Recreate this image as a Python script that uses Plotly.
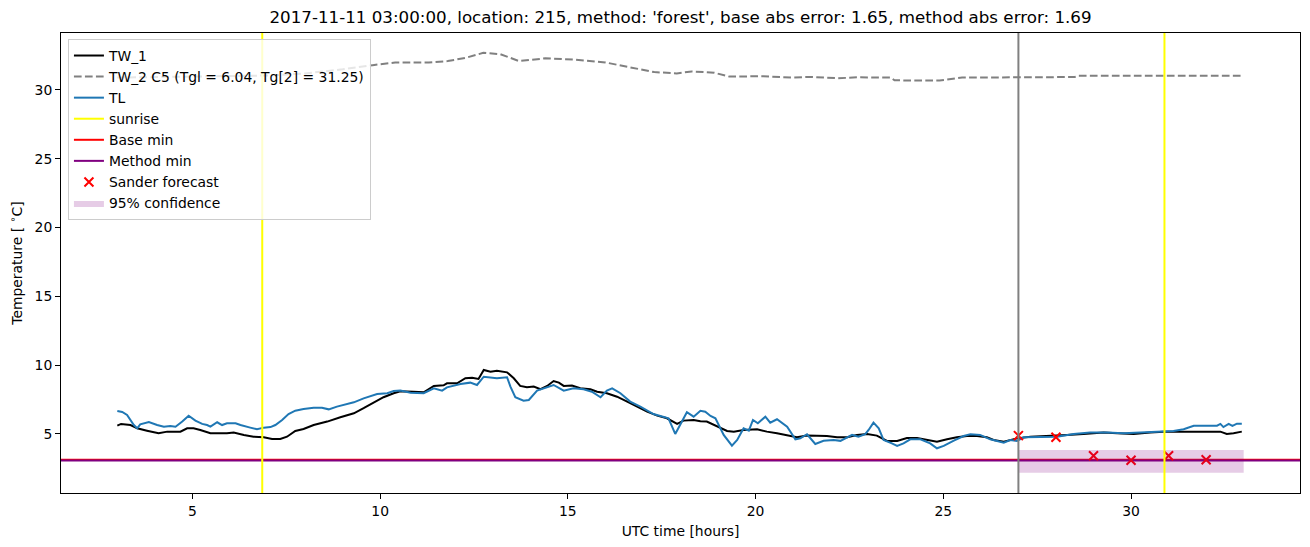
import plotly.graph_objects as go

# ---------------- data ----------------
tw1_t = [3.0, 3.1, 3.35, 3.53, 3.79, 4.1, 4.33, 4.68, 4.86, 5.03, 5.21, 5.48, 5.92, 6.1, 6.37, 6.63, 6.9,
         7.12, 7.34, 7.52, 7.74, 7.96, 8.23, 8.59, 8.94, 9.3, 9.56, 9.83, 10.09, 10.36, 10.54, 10.89, 11.16,
         11.43, 11.69, 11.78, 12.05, 12.27, 12.45, 12.62, 12.76, 12.94, 13.11, 13.38, 13.56, 13.73, 13.91,
         14.09, 14.27, 14.45, 14.62, 14.76, 14.89, 15.11, 15.33, 15.6, 15.78, 16.04, 16.31, 16.58, 16.84,
         17.11, 17.38, 17.64, 17.91, 18.08, 18.35, 18.53, 18.7, 18.97, 19.24, 19.42, 19.68, 20.04, 20.3,
         20.57, 20.84, 21.1, 21.37, 21.64, 21.9, 22.17, 22.44, 22.7, 22.97, 23.23, 23.5, 23.77, 24.03, 24.3,
         24.57, 24.83, 25.1, 25.36, 25.63, 25.9, 26.16, 26.34, 26.61, 26.96, 27.32, 27.85, 28.29, 28.73,
         29.27, 29.63, 30.07, 30.51, 30.87, 31.58, 32.38, 32.55, 32.73, 32.95]
tw1_v = [5.6, 5.73, 5.65, 5.41, 5.24, 5.05, 5.17, 5.17, 5.41, 5.41, 5.29, 5.05, 5.05, 5.1, 4.93, 4.8, 4.76,
         4.64, 4.64, 4.8, 5.22, 5.36, 5.65, 5.9, 6.21, 6.5, 6.87, 7.27, 7.67, 7.96, 8.1, 8.07, 8.03,
         8.49, 8.54, 8.68, 8.68, 9.05, 9.09, 9.0, 9.65, 9.53, 9.6, 9.48, 9.05, 8.49, 8.39,
         8.44, 8.25, 8.49, 8.85, 8.73, 8.49, 8.52, 8.32, 8.25, 8.07, 7.96, 7.71, 7.35, 6.99,
         6.62, 6.33, 6.14, 5.73, 5.97, 6.02, 5.92, 5.9, 5.53, 5.22, 5.17, 5.29, 5.34, 5.17,
         5.05, 4.88, 4.76, 4.88, 4.85, 4.85, 4.76, 4.76, 4.93, 5.0, 4.88, 4.49, 4.49, 4.7, 4.7,
         4.56, 4.44, 4.61, 4.76, 4.85, 4.85, 4.76, 4.56, 4.44, 4.68, 4.8, 4.85, 4.93, 5.0,
         5.1, 5.05, 5.0, 5.1, 5.17, 5.17, 5.17, 5.0, 5.05, 5.17]

tw2_t = [3.0, 4.0, 5.0, 6.0, 7.0, 8.0, 9.0, 9.8, 10.4, 11.3, 11.8, 12.3, 12.75, 13.2, 13.7, 14.4, 15.2,
         16.0, 16.6, 17.3, 17.9, 18.3, 18.9, 19.3, 20.2, 21.0, 21.4, 22.2, 22.7, 23.6, 23.7, 24.6, 24.9,
         25.5, 26.5, 27.0, 28.5, 28.6, 33.0]
tw2_v = [30.9, 30.95, 31.0, 31.0, 31.05, 31.2, 31.5, 31.8, 32.0, 32.0, 32.1, 32.35, 32.7, 32.6, 32.1, 32.3, 32.2,
         32.0, 31.7, 31.3, 31.2, 31.35, 31.25, 30.97, 31.0, 30.9, 30.95, 30.85, 30.92, 30.9, 30.7, 30.72, 30.68,
         30.9, 30.9, 30.94, 30.94, 31.04, 31.04]

tl_t = [3.0, 3.13, 3.26, 3.44, 3.53, 3.61, 3.84, 4.06, 4.24, 4.41, 4.55, 4.73, 4.9, 5.08, 5.26, 5.39, 5.48,
        5.66, 5.79, 5.92, 6.15, 6.28, 6.54, 6.72, 6.9, 7.08, 7.21, 7.39, 7.56, 7.74, 7.96, 8.23, 8.45, 8.63,
        8.85, 9.12, 9.3, 9.56, 9.92, 10.19, 10.36, 10.54, 10.81, 11.16, 11.43, 11.65, 11.78, 12.14, 12.4,
        12.58, 12.76, 13.11, 13.38, 13.47, 13.6, 13.82, 13.96, 14.18, 14.45, 14.62, 14.89, 15.15, 15.42,
        15.64, 15.87, 16.04, 16.18, 16.4, 16.66, 16.93, 17.28, 17.55, 17.68, 17.86, 18.04, 18.17, 18.35,
        18.53, 18.66, 18.8, 18.93, 19.15, 19.37, 19.51, 19.68, 19.82, 19.93, 20.06, 20.26, 20.39, 20.57,
        20.84, 21.06, 21.19, 21.37, 21.59, 21.81, 22.08, 22.26, 22.44, 22.57, 22.74, 22.92, 23.01, 23.14,
        23.28, 23.41, 23.63, 23.77, 23.94, 24.12, 24.39, 24.65, 24.83, 25.01, 25.28, 25.54, 25.72, 25.98,
        26.25, 26.61, 26.78, 26.96, 27.14, 27.58, 28.03, 28.47, 28.91, 29.36, 29.8, 30.25, 30.69, 31.13,
        31.4, 31.67, 32.02, 32.29, 32.38, 32.46, 32.6, 32.7, 32.82, 32.95]
tl_v = [6.67, 6.6, 6.38, 5.65, 5.41, 5.7, 5.87, 5.65, 5.53, 5.58, 5.53, 5.9, 6.33, 5.97, 5.73, 5.65, 5.53,
        5.85, 5.65, 5.78, 5.78, 5.65, 5.46, 5.34, 5.46, 5.5, 5.65, 6.02, 6.45, 6.69, 6.82, 6.91, 6.91, 6.79,
        6.99, 7.2, 7.3, 7.59, 7.9, 7.96, 8.12, 8.15, 8.0, 7.96, 8.32, 8.15, 8.39, 8.63, 8.73,
        8.56, 9.16, 9.05, 9.12, 8.44, 7.67, 7.42, 7.47, 8.15, 8.37, 8.56, 8.15, 8.32, 8.25,
        8.07, 7.67, 8.15, 8.32, 7.96, 7.35, 6.99, 6.45, 6.21, 6.14, 5.0, 5.9, 6.58, 6.26,
        6.69, 6.62, 6.31, 6.14, 4.93, 4.15, 4.56, 5.41, 5.24, 6.02, 5.78, 6.26, 5.82, 6.07,
        5.53, 4.61, 4.68, 4.98, 4.27, 4.51, 4.56, 4.5, 4.73, 4.93, 4.8, 4.98, 5.29, 5.82,
        5.41, 4.56, 4.32, 4.13, 4.32, 4.61, 4.61, 4.32, 3.96, 4.13, 4.51, 4.85, 4.98, 4.93,
        4.61, 4.37, 4.56, 4.5, 4.76, 4.8, 4.8, 5.0, 5.1, 5.1, 5.05, 5.1, 5.17, 5.22,
        5.34, 5.6, 5.6, 5.6, 5.73, 5.5, 5.73, 5.58, 5.75, 5.75]

sunrise_times = [6.86, 30.89]
forecast_time = 27.0
base_min = 3.12
method_min = 3.07

sander_t = [27, 28, 29, 30, 31, 32]
sander_v = [4.88, 4.76, 3.42, 3.09, 3.42, 3.13]

conf_t = [27.0, 33.0]
conf_lo = [2.19, 2.19]
conf_hi = [3.84, 3.84]

title_text = "2017-11-11 03:00:00, location: 215, method: 'forest', base abs error: 1.65, method abs error: 1.69"

# ---------------- figure ----------------
FONT = "DejaVu Sans"
FS = 13.9
LW = 2.0
fig = go.Figure()

fig.add_trace(go.Scatter(x=tw1_t, y=tw1_v, mode="lines", name="TW_1",
                         line=dict(color="black", width=LW), legendrank=1))
fig.add_trace(go.Scatter(x=tw2_t, y=tw2_v, mode="lines",
                         name="TW_2 C5 (Tgl = 6.04, Tg[2] = 31.25)",
                         line=dict(color="#808080", width=LW, dash="7.7px,3.3px"), legendrank=2))
fig.add_trace(go.Scatter(x=tl_t, y=tl_v, mode="lines", name="TL",
                         line=dict(color="#1f77b4", width=LW), legendrank=3))

# vertical lines
for i, s in enumerate(sunrise_times):
    fig.add_shape(type="line", xref="x", yref="paper", x0=s, x1=s, y0=0, y1=1,
                  line=dict(color="yellow", width=LW), layer="above",
                  showlegend=(i == 0), name="sunrise", legendrank=4)
fig.add_shape(type="line", xref="x", yref="paper", x0=forecast_time, x1=forecast_time, y0=0, y1=1,
              line=dict(color="#808080", width=LW), layer="above", showlegend=False)

# horizontal lines
fig.add_shape(type="line", xref="paper", yref="y", x0=0, x1=1, y0=base_min, y1=base_min,
              line=dict(color="red", width=LW), layer="between",
              showlegend=True, name="Base min", legendrank=5)
fig.add_shape(type="line", xref="paper", yref="y", x0=0, x1=1, y0=method_min, y1=method_min,
              line=dict(color="purple", width=LW), layer="between",
              showlegend=True, name="Method min", legendrank=6)

fig.add_trace(go.Scatter(x=sander_t, y=sander_v, mode="markers", name="Sander forecast",
                         marker=dict(symbol="x-thin", size=9, line=dict(color="red", width=2), color="red"),
                         legendrank=7))

fig.add_trace(go.Scatter(x=conf_t + conf_t[::-1], y=conf_hi + conf_lo[::-1], mode="lines",
                         fill="toself", fillcolor="rgba(128,0,128,0.2)", line=dict(width=0),
                         name="95% confidence", legendrank=8))

axis_common = dict(showgrid=False, zeroline=False, showline=True, linecolor="black", linewidth=1.1,
                   mirror=True, ticks="outside", ticklen=4.9, tickwidth=1.1, tickcolor="black",
                   tickfont=dict(family=FONT, size=FS, color="black"), automargin=False)

fig.update_layout(
    width=1310, height=547,
    margin=dict(l=61, r=10, t=33, b=54),
    paper_bgcolor="white", plot_bgcolor="white",
    font=dict(family=FONT, size=FS, color="black"),
    title=dict(text=title_text, x=0.5, xref="paper", y=1 - 17 / 547, yref="container",
               xanchor="center", yanchor="middle", font=dict(family=FONT, size=16.7, color="black")),
    xaxis=dict(range=[1.5, 34.5], tick0=0, dtick=5,
               title=dict(text="UTC time [hours]", font=dict(family=FONT, size=FS), standoff=8),
               **axis_common),
    yaxis=dict(range=[0.71, 34.14], tick0=0, dtick=5,
               title=dict(text="Temperature [ <sup>∘</sup>C]", font=dict(family=FONT, size=FS), standoff=8),
               **axis_common),
    legend=dict(x=0.0056, y=0.987, xanchor="left", yanchor="top",
                bgcolor="rgba(255,255,255,0.8)", bordercolor="#cccccc", borderwidth=1,
                font=dict(family=FONT, size=FS, color="black"), tracegroupgap=0,
                itemwidth=30),
    showlegend=True,
)

fig.write_html("out.html")
